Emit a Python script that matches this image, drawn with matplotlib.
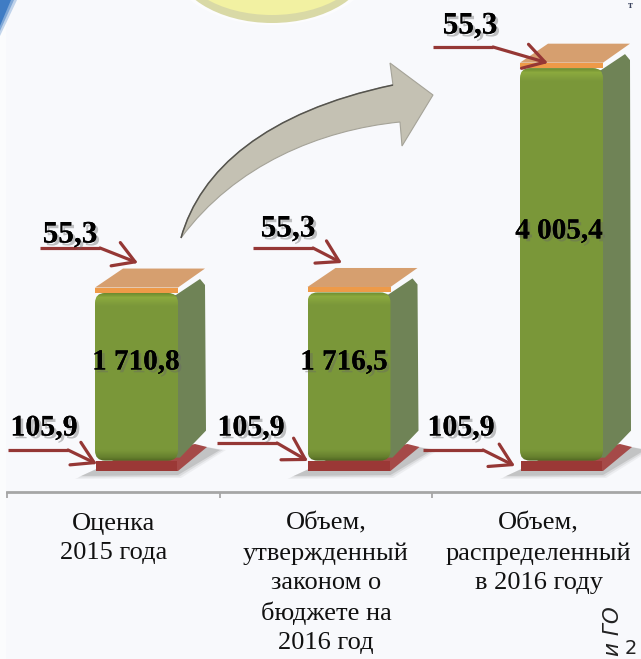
import matplotlib
matplotlib.use('Agg')
import matplotlib.pyplot as plt
import matplotlib.patheffects as pe
import numpy as np
from matplotlib.patches import Polygon, FancyBboxPatch, Ellipse, PathPatch, Rectangle
from matplotlib.path import Path
from matplotlib.transforms import Affine2D, IdentityTransform

plt.rcParams['font.family'] = ['Liberation Serif', 'DejaVu Serif']

# DATA
categories = ['Оценка\n2015 года',
              'Объем,\nутвержденный\nзаконом о\nбюджете на\n2016 год',
              'Объем,\nраспределенный\nв 2016 году']
bottom_vals = [105.9, 105.9, 105.9]
middle_vals = [1710.8, 1716.5, 4005.4]
top_vals = [55.3, 55.3, 55.3]
bottom_labels = ['105,9', '105,9', '105,9']
middle_labels = ['1 710,8', '1 716,5', '4 005,4']
top_labels = ['55,3', '55,3', '55,3']

W, H = 641, 659
BG = '#f8f9fc'
ARROW_RED = '#953735'

fig = plt.figure(figsize=(W/100, H/100), dpi=100, facecolor=BG)

# px is picture coords, y going down
px = Affine2D().scale(1, -1).translate(0, H)
idt = IdentityTransform()

# x unit = 212.5 px, y unit = 0.098 px, y=0 sits on 471 px
pitch = 212.5
scale_y = 0.098
ax_left, ax_right, ax_bottom_px = 7, 641, 492
ax = fig.add_axes([ax_left/W, (H-ax_bottom_px)/H, (ax_right-ax_left)/W, ax_bottom_px/H])
ax.set_xlim((ax_left-136.5)/pitch, (ax_right-136.5)/pitch)
ax.set_ylim(-(ax_bottom_px-471)/scale_y, 471/scale_y)
ax.patch.set_alpha(0)
for s in ['top', 'left', 'right']:
    ax.spines[s].set_visible(False)
ax.spines['bottom'].set_color('#a6a6a6')
ax.spines['bottom'].set_linewidth(2)
ax.set_yticks([])

x_pos = np.arange(len(categories))
ax.set_xticks((np.array([7, 220, 432])-136.5)/pitch)
ax.set_xticklabels([])
ax.tick_params(axis='x', which='major', length=4, width=1.2, color='#a0a0a0')
ax.set_xticks(x_pos-0.108, categories, minor=True)
ax.tick_params(axis='x', which='minor', length=0, pad=15, labelsize=19, labelcolor='#111111')
for t in ax.get_xticklabels(minor=True):
    t.set_linespacing(1.42)

# BACKGROUND BITS
fig.add_artist(Rectangle((0, 0), 6, H, transform=idt, fc='white', ec='none', alpha=0.5))
for (a, b), alpha in [((17, 36), 0.3), ((14, 31), 0.5), ((11, 26), 1.0)]:
    fig.add_artist(Polygon([(0, 0), (a, 0), (0, b)], closed=True, transform=px, fc='#3f7cc4', ec='none', alpha=alpha))
fig.add_artist(Ellipse((272, -40), 208, 130, transform=px, fc='#ffffff', ec='none', alpha=0.6))
fig.add_artist(Ellipse((272, -40), 198, 126, transform=px, fc='#d9d9a6', ec='none'))
fig.add_artist(Ellipse((272, -44), 192, 118, transform=px, fc='#f2f1a2', ec='none'))
fig.text(630, H-1, 'т', transform=idt, fontsize=7, fontweight='bold', color='#3d4660', ha='center', va='top')
fig.text(613, H-631, 'и ГО', rotation=90, style='italic', family='DejaVu Sans', fontsize=15.5, color='#222222',
         ha='center', va='center', rotation_mode='anchor', transform=idt)
fig.text(631, H-649, '2', family='DejaVu Sans', fontsize=14, color='#222222', ha='center', va='center',
         transform=idt)


def vgrad(height):
    # front face shading, light at top edge and dark at bottom edge
    d = np.arange(int(height))[:, None]
    stops_d = [0, 4, 12, height-12, height-5, height-1]
    r = np.interp(d, stops_d, [0x6e, 0x8c, 0x7b, 0x7a, 0x66, 0x4f])
    g = np.interp(d, stops_d, [0x8c, 0xaa, 0x98, 0x97, 0x80, 0x66])
    b = np.interp(d, stops_d, [0x30, 0x3e, 0x3a, 0x39, 0x2e, 0x22])
    return np.dstack([r, g, b])/255


# BARS
bar_w = 83/pitch
for i, x in enumerate(x_pos):
    base = bottom_vals[i]
    top = base+middle_vals[i]
    cap = top+top_vals[i]
    x0, y0 = ax.transData.transform((x-bar_w/2, 0))
    x1, y_base = ax.transData.transform((x+bar_w/2, base))
    _, y_top = ax.transData.transform((x, top))
    _, y_cap = ax.transData.transform((x, cap))

    # floor shadow
    for grow, alpha in [(6, 0.10), (3, 0.18), (0, 0.3)]:
        ax.add_patch(Polygon([(x0-14-grow, y0-5-grow/2), (x1+grow/2, y0-4-grow/2), (x1+42+grow, y0+21), (x1+28, y0+24), (x0+10, y0+6)],
                             closed=True, transform=idt, fc='#8c8c8c', ec='none', alpha=alpha, clip_on=False))
    # red plate
    ax.add_patch(Polygon([(x0+1, y0), (x1, y0), (x1+29, y0+24), (x1+17, y0+27), (x0+20, y0+12)],
                         closed=True, transform=idt, fc='#a54a48', ec='none'))
    ax.bar(x, base, bar_w*0.98, color='#9b3836', linewidth=0)

    # side face
    ax.add_patch(Polygon([(x1-10, y_top-2), (x1-2, y_top-2), (x1+22, y_top+14), (x1+27, y_top+8), (x1+28, y_base+30),
                          (x1+2, y_base+3), (x1-10, y_base+3)],
                         closed=True, transform=idt, fc='#6f8356', ec='none'))

    # front face, image clipped to a rounded box
    clip = FancyBboxPatch((x0+8, y_base+8), x1-x0-16, y_top-y_base-16, boxstyle='round,pad=8,rounding_size=10',
                          transform=idt, fc='none', ec='none')
    ax.add_patch(clip)
    xa, ya = ax.transData.inverted().transform((x0, y_base))
    xb, yb = ax.transData.inverted().transform((x1, y_top))
    im = ax.imshow(vgrad(y_top-y_base), extent=(xa, xb, ya, yb), origin='upper', aspect='auto', zorder=2)
    im.set_clip_path(clip)

    # orange plate
    ax.add_patch(Polygon([(x0, y_cap), (x1, y_cap), (x1+27, y_cap+19), (x0+28, y_cap+19)], closed=True,
                         transform=idt, fc='#d69f6f', ec='none', zorder=3))
    ax.bar(x, top_vals[i], bar_w, bottom=top, color='#ee9a48', linewidth=0, zorder=3)

ax.set_xlim((ax_left-136.5)/pitch, (ax_right-136.5)/pitch)
ax.set_ylim(-(ax_bottom_px-471)/scale_y, 471/scale_y)

# BIG CURVED ARROW
upper = [(181, 238), (200, 170), (265, 112), (393, 85)]
head = [(390, 63), (433, 95), (402, 146), (400, 122)]
lower = [(320, 130), (235, 165), (181, 238)]
arrow_path = Path(upper+head+lower+[(181, 238)],
                  [Path.MOVETO, Path.CURVE4, Path.CURVE4, Path.CURVE4, Path.LINETO, Path.LINETO, Path.LINETO,
                   Path.LINETO, Path.CURVE4, Path.CURVE4, Path.CURVE4, Path.CLOSEPOLY])
ax.add_patch(PathPatch(arrow_path, transform=px, fc='#c4c1b3', ec='#a5a398', lw=0.8, zorder=4))
ax.add_patch(PathPatch(Path(upper, [Path.MOVETO, Path.CURVE4, Path.CURVE4, Path.CURVE4]), transform=px,
                       fc='none', ec='#55544e', lw=1.1, zorder=5))

# LABEL POINTERS
lead_top = [(40, 100, 248, 138, 263), (253, 313, 248, 342, 263), (433, 493, 47, 548, 63)]
lead_low = [(8, 68, 450, 97, 464), (217, 277, 443, 308, 461), (423, 483, 450, 515, 466)]
for xs, xe, yl, xt, yt in lead_top+lead_low:
    ax.plot([xs, xe], [yl, yl], transform=px, color=ARROW_RED, lw=2.3, solid_capstyle='butt', zorder=6, clip_on=False)
    ax.annotate('', xy=(xt, H-yt), xytext=(xe, H-yl), xycoords='figure pixels', textcoords='figure pixels',
                arrowprops=dict(arrowstyle='->,head_length=1.0,head_width=0.6', mutation_scale=15, color=ARROW_RED,
                                lw=2.3, shrinkA=0, shrinkB=0), zorder=6)

# VALUE LABELS
shadow = [pe.withSimplePatchShadow(offset=(2, -2), shadow_rgbFace='#666666', alpha=0.4), pe.Normal()]
top_xy = [(70, 235), (288, 229), (470, 26)]
mid_xy = [(136, 362), (344, 362), (559, 231)]
low_xy = [(44, 428), (251, 428), (461, 428)]
for labels, xy, size in [(top_labels, top_xy, 22.5), (middle_labels, mid_xy, 21), (bottom_labels, low_xy, 21.5)]:
    for lab, (tx, ty) in zip(labels, xy):
        ax.text(tx, H-ty, lab, transform=idt, fontsize=size, fontweight='bold', color='black',
                ha='center', va='center', path_effects=shadow, zorder=7)

fig.savefig('out.png', dpi=100, facecolor=BG)
